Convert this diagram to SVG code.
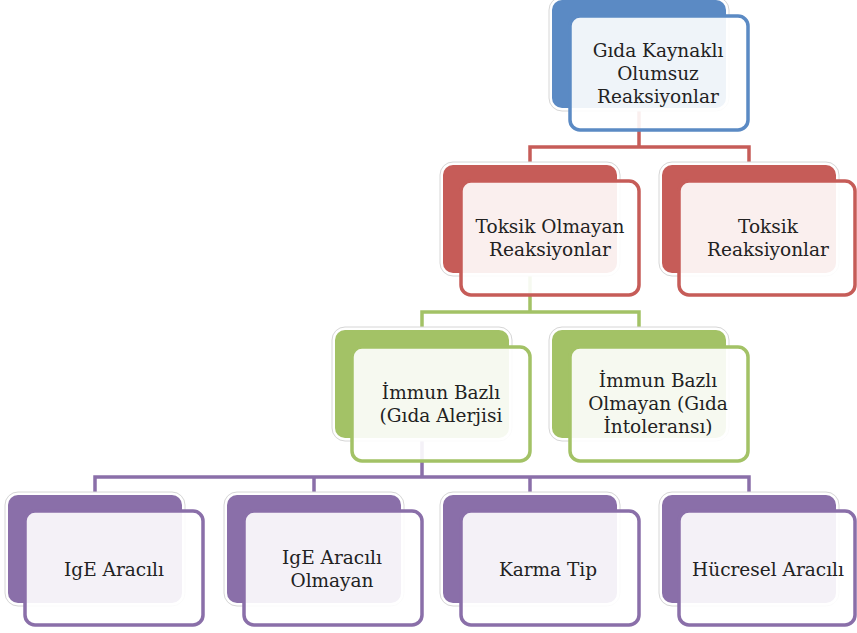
<svg xmlns="http://www.w3.org/2000/svg" width="857" height="633" viewBox="0 0 857 633">
<style>
.halo{fill:#fff;stroke:#d6d6d6;stroke-width:1}
.front{stroke-width:3.5;fill:#fff;fill-opacity:0.9}
.b{fill:#5B8AC4}.bs{stroke:#5B8AC4}
.r{fill:#C65C58}.rs{stroke:#C65C58}
.g{fill:#A3C266}.gs{stroke:#A3C266}
.p{fill:#8A6FA9}.ps{stroke:#8A6FA9}
.conn path{fill:none;stroke-width:3.5}
text{font-family:"DejaVu Serif","Liberation Serif",serif;font-size:18.5px;fill:#222;text-anchor:middle}
</style>
<rect width="857" height="633" fill="#fff"/>
<g id="connectors" class="conn">
<path class="rs" d="M639 108V147M530 165V147H749V165"/>
<path class="gs" d="M530 273V312M422 330V312H639V330"/>
<path class="ps" d="M422 438V477M95 495V477H749V495M314 477V495M530 477V495"/>
</g>
<g id="n1">
<rect class="halo" x="549" y="-3" width="180" height="114" rx="13"/>
<rect class="b" x="552" y="0" width="174" height="108" rx="10"/>
<rect class="front bs" x="570" y="16" width="178" height="114" rx="10"/>
<text x="658" y="57">Gıda Kaynaklı</text>
<text x="658" y="80">Olumsuz</text>
<text x="658" y="103">Reaksiyonlar</text>
</g>
<g id="n2">
<rect class="halo" x="440" y="162" width="180" height="114" rx="13"/>
<rect class="r" x="443" y="165" width="174" height="108" rx="10"/>
<rect class="front rs" x="461" y="181" width="178" height="114" rx="10"/>
<text x="550" y="233">Toksik Olmayan</text>
<text x="550" y="256">Reaksiyonlar</text>
</g>
<g id="n3">
<rect class="halo" x="659" y="162" width="180" height="114" rx="13"/>
<rect class="r" x="662" y="165" width="174" height="108" rx="10"/>
<rect class="front rs" x="679" y="181" width="176" height="114" rx="10"/>
<text x="768" y="233">Toksik</text>
<text x="768" y="256">Reaksiyonlar</text>
</g>
<g id="n4">
<rect class="halo" x="332" y="327" width="180" height="114" rx="13"/>
<rect class="g" x="335" y="330" width="174" height="108" rx="10"/>
<rect class="front gs" x="352" y="347" width="178" height="114" rx="10"/>
<text x="441" y="399">İmmun Bazlı</text>
<text x="441" y="422">(Gıda Alerjisi</text>
</g>
<g id="n5">
<rect class="halo" x="549" y="327" width="180" height="114" rx="13"/>
<rect class="g" x="552" y="330" width="174" height="108" rx="10"/>
<rect class="front gs" x="570" y="347" width="178" height="114" rx="10"/>
<text x="658" y="387">İmmun Bazlı</text>
<text x="658" y="410">Olmayan (Gıda</text>
<text x="658" y="433">İntoleransı)</text>
</g>
<g id="n6">
<rect class="halo" x="5" y="492" width="180" height="114" rx="13"/>
<rect class="p" x="8" y="495" width="174" height="108" rx="10"/>
<rect class="front ps" x="25" y="511" width="178" height="114" rx="10"/>
<text x="114" y="576">IgE Aracılı</text>
</g>
<g id="n7">
<rect class="halo" x="224" y="492" width="180" height="114" rx="13"/>
<rect class="p" x="227" y="495" width="174" height="108" rx="10"/>
<rect class="front ps" x="244" y="511" width="178" height="114" rx="10"/>
<text x="332" y="564">IgE Aracılı</text>
<text x="332" y="587">Olmayan</text>
</g>
<g id="n8">
<rect class="halo" x="440" y="492" width="180" height="114" rx="13"/>
<rect class="p" x="443" y="495" width="174" height="108" rx="10"/>
<rect class="front ps" x="461" y="511" width="178" height="114" rx="10"/>
<text x="548" y="576">Karma Tip</text>
</g>
<g id="n9">
<rect class="halo" x="659" y="492" width="180" height="114" rx="13"/>
<rect class="p" x="662" y="495" width="174" height="108" rx="10"/>
<rect class="front ps" x="679" y="511" width="176" height="114" rx="10"/>
<text x="768" y="576">Hücresel Aracılı</text>
</g>
</svg>
